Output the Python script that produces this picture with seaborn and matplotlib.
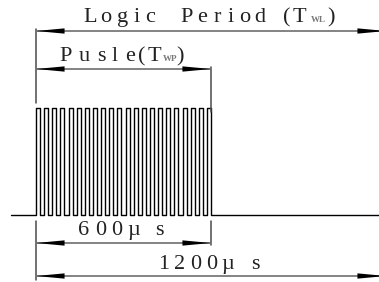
import matplotlib
matplotlib.use("Agg")
import matplotlib.pyplot as plt
import seaborn as sns
import numpy as np
import pandas as pd

# ---- data ----
pulse_count = 22          # pulses in the burst
pulse_width_us = 600      # T_WP
period_us = 1200          # T_WL
wave_start_us = -86
wave_end_us = 1300
label_period = "Logic Period (T"
label_period_sub = "WL"
label_pulse = "Pusle(T"
label_pulse_sub = "WP"
label_600 = "600µs"
label_1200 = "1200µs"

# ---- layout helpers (pixel -> data) ----
W, H = 379, 282
X0_PX, PX_PER_US = 36.0, 175.0 / 600.0
BASE_PX, UNIT_PX = 215.0, 107.0

def px2x(px):
    return (px - X0_PX) / PX_PER_US

def px2y(py):
    return (BASE_PX - py) / UNIT_PX

sns.set_theme(style="white")
plt.rcParams["font.family"] = ["Liberation Serif", "DejaVu Serif"]

fig = plt.figure(figsize=(W / 100, H / 100), dpi=100)
ax = fig.add_axes([0, 0, 1, 1])
ax.set_xlim(px2x(0), px2x(W))
ax.set_ylim(px2y(H), px2y(0))
ax.axis("off")

# ---- waveform ----
p = pulse_width_us / (pulse_count - 0.5)
t = [wave_start_us]
v = [0]
for k in range(pulse_count):
    t += [k * p, k * p + p / 2]
    v += [1, 0]
t.append(wave_end_us)
v.append(0)
df = pd.DataFrame({"t": t, "v": v})
sns.lineplot(data=df, x="t", y="v", drawstyle="steps-post", estimator=None,
             sort=False, color="black", lw=1.0, ax=ax)

# ---- dimension lines ----
dim_color = "#7a7a7a"
ext_color = "#4a4a4a"
head_len_us = 29 / PX_PER_US

def dim(x0, x1, y):
    sns.lineplot(x=[x0, x1], y=[y, y], color=dim_color, lw=1.3, ax=ax,
                 estimator=None, sort=False)
    for tip, tail in ((x0, x0 + head_len_us), (x1, x1 - head_len_us)):
        ax.annotate("", xy=(tip, y), xytext=(tail, y), annotation_clip=False,
                    arrowprops=dict(arrowstyle="-|>,head_length=20.5,head_width=1.9",
                                    mutation_scale=1, color="black", lw=0.01,
                                    shrinkA=0, shrinkB=0))

def ext(x, py0, py1):
    ax.plot([x, x], [px2y(py0), px2y(py1)], color=ext_color, lw=1.1)

ext(0, 29, 103)
ext(pulse_width_us, 67, 112)
ext(0, 221, 280)
ext(pulse_width_us, 221, 245)

dim(0, period_us, px2y(31))
dim(0, pulse_width_us, px2y(69))
dim(0, pulse_width_us, px2y(243))
dim(0, period_us, px2y(276))

# ---- spaced labels ----
FS = 16

def spaced(text, centers, base_py, sub=None, sub_center=None, closing=None):
    for ch, c in zip(text, centers):
        if ch == " ":
            continue
        ax.text(px2x(c), px2y(base_py), ch, ha="center", va="baseline",
                fontsize=FS, color="#222222")
    if sub is not None:
        ax.text(px2x(sub_center), px2y(base_py), sub, ha="center", va="baseline",
                fontsize=6.5, color="#777777", fontweight="bold")
    if closing is not None:
        ax.text(px2x(closing), px2y(base_py), ")", ha="center", va="baseline",
                fontsize=FS, color="#222222")

spaced(label_period,
       [90, 106, 123, 137, 150, 0, 187, 202, 217, 231, 245, 260, 0, 287, 299],
       22, label_period_sub, 318, 331)
spaced(label_pulse, [66, 84, 101, 115, 130, 142, 154], 61,
       label_pulse_sub, 170, 180)
spaced(label_600, [84, 101, 117, 134, 159], 235)
spaced(label_1200, [164, 180, 196, 212, 228, 255], 269)

fig.savefig("out.png", dpi=100)
